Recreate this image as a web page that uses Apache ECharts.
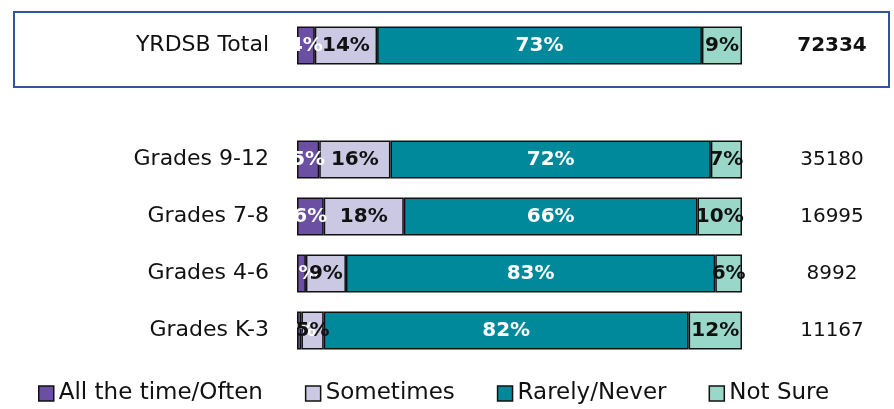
<!DOCTYPE html>
<html>
<head>
<meta charset="utf-8">
<style>
  html, body { margin: 0; padding: 0; background: #fff; }
  #chart { width: 894px; height: 409px; }
</style>
<script src="https://cdn.jsdelivr.net/npm/echarts@6/dist/echarts.min.js"></script>
</head>
<body>
<div id="chart"></div>
<script>
var groups = ['YRDSB Total', '', 'Grades 9-12', 'Grades 7-8', 'Grades 4-6', 'Grades K-3'];
var counts = ['72334', '', '35180', '16995', '8992', '11167'];
var often = [4, '-', 5, 6, 2, 1];
var sometimes = [14, '-', 16, 18, 9, 5];
var rarely = [73, '-', 72, 66, 83, 82];
var notSure = [9, '-', 7, 10, 6, 12];

var myChart = echarts.init(document.getElementById('chart'));
var font = 'DejaVu Sans';

function seg(name, data, color, textColor) {
  return {
    name: name,
    type: 'bar',
    stack: 'all',
    barWidth: 38,
    data: data,
    itemStyle: { color: color, borderColor: '#111', borderWidth: 1.5 },
    label: {
      show: true,
      position: 'inside',
      formatter: '{c}%',
      color: textColor,
      fontFamily: font,
      fontWeight: 'bold',
      fontSize: 20
    }
  };
}

var option = {
  animation: false,
  grid: { left: 297, right: 152, top: 17, height: 342 },
  legend: {
    top: 377,
    left: 33,
    icon: 'rect',
    itemWidth: 15,
    itemHeight: 15,
    itemGap: 42,
    itemStyle: { borderColor: '#111', borderWidth: 1.5 },
    textStyle: { fontFamily: font, fontSize: 23, color: '#111' },
    data: ['All the time/Often', 'Sometimes', 'Rarely/Never', 'Not Sure']
  },
  graphic: [{
    type: 'rect',
    shape: { x: 14, y: 12, width: 875, height: 75 },
    style: { fill: 'none', stroke: '#34549a', lineWidth: 2 },
    silent: true
  }],
  xAxis: { type: 'value', min: 0, max: 100, show: false },
  yAxis: [{
    type: 'category',
    inverse: true,
    data: groups,
    axisLine: { show: false },
    axisTick: { show: false },
    axisLabel: { margin: 28, color: '#111', fontFamily: font, fontSize: 22 }
  }, {
    type: 'category',
    inverse: true,
    position: 'right',
    data: counts,
    axisLine: { show: false },
    axisTick: { show: false },
    axisLabel: {
      margin: 90,
      align: 'center',
      color: '#111',
      fontFamily: font,
      fontSize: 20,
      formatter: function (v, i) { return i === 0 ? '{b|' + v + '}' : v; },
      rich: { b: { fontWeight: 'bold', fontFamily: font, fontSize: 20, color: '#111' } }
    }
  }],
  series: [
    seg('All the time/Often', often, '#6a4fa3', '#fff'),
    seg('Sometimes', sometimes, '#cbc8e3', '#111'),
    seg('Rarely/Never', rarely, '#00899a', '#fff'),
    seg('Not Sure', notSure, '#99d8c8', '#111')
  ]
};
myChart.setOption(option);
</script>
</body>
</html>
